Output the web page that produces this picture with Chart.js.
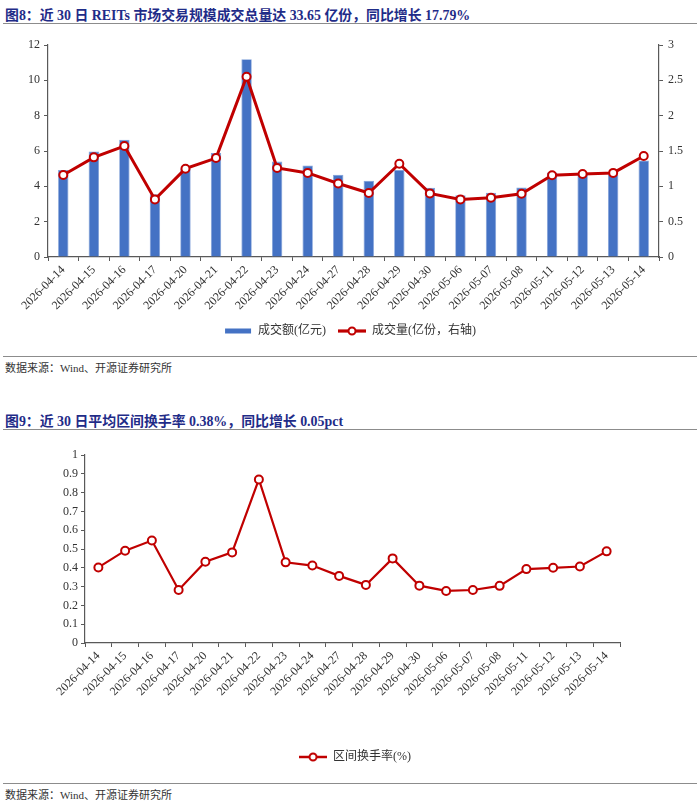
<!DOCTYPE html>
<html>
<head>
<meta charset="utf-8">
<script src="https://cdn.jsdelivr.net/npm/chart.js@4/dist/chart.umd.min.js"></script>
<style>
  html, body { margin: 0; padding: 0; background: #fff; }
  body { width: 700px; height: 806px; position: relative; overflow: hidden; }
  .title { position: absolute; left: 5px; font-family: "Liberation Serif", "Noto Sans CJK SC", serif; font-weight: bold; font-size: 13.9px; color: #1f2c88; white-space: nowrap; }
  .rule { position: absolute; left: 3px; width: 694px; height: 0; border-top: 1.5px solid #8c8c8c; }
  .src { position: absolute; left: 5px; font-family: "Liberation Serif", "Noto Sans CJK SC", serif; font-size: 11px; color: #333; white-space: nowrap; }
  .box { position: absolute; left: 0; width: 700px; }
</style>
</head>
<body>
<div class="title" style="top:4px;">图8：近 30 日 REITs 市场交易规模成交总量达 33.65 亿份，同比增长 17.79%</div>
<div class="rule" style="top:23px;"></div>
<div class="box" style="top:30px;height:320px;"><canvas id="c1"></canvas></div>
<div class="rule" style="top:356px;"></div>
<div class="src" style="top:359px;">数据来源：Wind、开源证券研究所</div>

<div class="title" style="top:410px;">图9：近 30 日平均区间换手率 0.38%，同比增长 0.05pct</div>
<div class="rule" style="top:429px;"></div>
<div class="box" style="top:440px;height:340px;"><canvas id="c2"></canvas></div>
<div class="rule" style="top:783px;"></div>
<div class="src" style="top:786px;">数据来源：Wind、开源证券研究所</div>

<script>
const dates = ['2026-04-14','2026-04-15','2026-04-16','2026-04-17','2026-04-20','2026-04-21','2026-04-22','2026-04-23','2026-04-24','2026-04-27','2026-04-28','2026-04-29','2026-04-30','2026-05-06','2026-05-07','2026-05-08','2026-05-11','2026-05-12','2026-05-13','2026-05-14'];
const amount = [4.93,5.97,6.64,3.55,5.0,5.88,11.19,5.4,5.18,4.66,4.32,4.93,3.92,3.5,3.64,3.94,4.78,4.7,4.65,5.46];
const volume = [1.16,1.41,1.57,0.815,1.25,1.40,2.55,1.26,1.19,1.04,0.905,1.32,0.90,0.815,0.84,0.896,1.156,1.175,1.19,1.43];
const turnover = [0.402,0.491,0.545,0.282,0.432,0.482,0.87,0.429,0.412,0.357,0.309,0.45,0.305,0.277,0.282,0.304,0.393,0.4,0.407,0.4875];
const leftTicks = [0,2,4,6,8,10,12];
const rightTicks = [0,0.5,1,1.5,2,2.5,3];
const turnTicks = [0,0.1,0.2,0.3,0.4,0.5,0.6,0.7,0.8,0.9,1];

const BLUE = '#4472c4';
const RED = '#c00000';
const AXIS = '#595959';
const TXT = '#333333';
const numFont = { family: '"Liberation Serif", "Times New Roman", serif', size: 12 };
const legFont = { family: '"Liberation Serif", "Noto Sans CJK SC", serif', size: 12 };
const plainNum = v => String(+Number(v).toFixed(2));

function makeIcon(kind, lw) {
  const dpr = window.devicePixelRatio || 1;
  const c = document.createElement('canvas');
  c.width = 28 * dpr; c.height = 10 * dpr;
  const g = c.getContext('2d');
  g.scale(dpr, dpr);
  if (kind === 'bar') {
    g.fillStyle = BLUE;
    g.fillRect(1, 2.5, 26, 5);
  } else {
    g.strokeStyle = RED; g.lineWidth = lw;
    g.beginPath(); g.moveTo(0, 5); g.lineTo(28, 5); g.stroke();
    g.fillStyle = '#fff'; g.lineWidth = 2;
    g.beginPath(); g.arc(14, 5, 3.5, 0, Math.PI * 2); g.fill(); g.stroke();
  }
  const img = new Image(28, 10);
  img.src = c.toDataURL();
  return img;
}

function fixedWidth(w) { return function (s) { s.width = w; }; }
function fixedHeight(h) { return function (s) { s.height = h; }; }

const xAxisBase = (h) => ({
  offset: true,
  grid: { display: true, drawOnChartArea: false, offset: true, tickLength: 4, color: AXIS, lineWidth: 1 },
  border: { display: true, color: AXIS, width: 1.2 },
  ticks: { color: TXT, font: numFont, minRotation: 45, maxRotation: 45, autoSkip: false, padding: 2 },
  afterFit: fixedHeight(h)
});

const iconBar = makeIcon('bar');
const iconLine1 = makeIcon('line', 3.2);
const iconLine2 = makeIcon('line', 2.5);

function legendLabels(chart) {
  const items = Chart.defaults.plugins.legend.labels.generateLabels(chart);
  items.forEach(it => { it.pointStyle = chart.data.datasets[it.datasetIndex].legendIcon; });
  return items;
}

function startCharts() {
  new Chart(document.getElementById('c1'), {
    data: {
      labels: dates,
      datasets: [
        { type: 'line', label: '成交量(亿份，右轴)', data: volume, yAxisID: 'y1', order: 0,
          borderColor: RED, borderWidth: 3, pointRadius: 4, pointBorderWidth: 2, pointBackgroundColor: '#fff',
          pointBorderColor: RED, tension: 0, legendIcon: iconLine1 },
        { type: 'bar', label: '成交额(亿元)', data: amount, yAxisID: 'y', order: 1,
          backgroundColor: BLUE, borderColor: '#7f9fd8', borderWidth: 0.8,
          categoryPercentage: 1, barPercentage: 0.34, legendIcon: iconBar }
      ]
    },
    options: {
      responsive: true, maintainAspectRatio: false, animation: false,
      layout: { padding: { top: 15, right: 0, left: 0, bottom: 3 } },
      plugins: {
        tooltip: { enabled: false },
        legend: {
          position: 'bottom', reverse: true,
          labels: { usePointStyle: true, pointStyleWidth: 28, padding: 12, font: legFont, color: TXT, generateLabels: legendLabels }
        }
      },
      scales: {
        x: xAxisBase(56),
        y: {
          position: 'left', min: 0, max: 12,
          afterBuildTicks(s) { s.ticks = leftTicks.map(v => ({ value: v })); },
          grid: { display: true, drawOnChartArea: false, tickLength: 4, color: AXIS },
          border: { display: true, color: AXIS, width: 1.2 },
          ticks: { color: TXT, font: numFont, padding: 4, callback: plainNum },
          afterFit: fixedWidth(48)
        },
        y1: {
          position: 'right', min: 0, max: 3,
          afterBuildTicks(s) { s.ticks = rightTicks.map(v => ({ value: v })); },
          grid: { display: true, drawOnChartArea: false, tickLength: 4, color: AXIS },
          border: { display: true, color: AXIS, width: 1.2 },
          ticks: { color: TXT, font: numFont, padding: 5, callback: plainNum },
          afterFit: fixedWidth(41)
        }
      }
    }
  });

  new Chart(document.getElementById('c2'), {
    type: 'line',
    data: {
      labels: dates,
      datasets: [
        { label: '区间换手率(%)', data: turnover,
          borderColor: RED, borderWidth: 2.2, pointRadius: 4, pointBorderWidth: 2, pointBackgroundColor: '#fff',
          pointBorderColor: RED, tension: 0, legendIcon: iconLine2 }
      ]
    },
    options: {
      responsive: true, maintainAspectRatio: false, animation: false,
      layout: { padding: { top: 15, right: 0, left: 10, bottom: 7 } },
      plugins: {
        tooltip: { enabled: false },
        legend: {
          position: 'bottom',
          labels: { usePointStyle: true, pointStyleWidth: 28, padding: 10, font: legFont, color: TXT, generateLabels: legendLabels }
        }
      },
      scales: {
        x: xAxisBase(98),
        y: {
          position: 'left', min: 0, max: 1,
          afterBuildTicks(s) { s.ticks = turnTicks.map(v => ({ value: v })); },
          grid: { display: true, drawOnChartArea: false, tickLength: 4, color: AXIS },
          border: { display: true, color: AXIS, width: 1.2 },
          ticks: { color: TXT, font: numFont, padding: 3, callback: plainNum },
          afterFit: fixedWidth(75)
        },
        spacer: {
          position: 'right', min: 0, max: 1,
          grid: { display: false, drawOnChartArea: false, drawTicks: false },
          border: { display: false },
          ticks: { display: false },
          afterFit: fixedWidth(80)
        }
      }
    }
  });
}

let pending = 3;
[iconBar, iconLine1, iconLine2].forEach(img => {
  if (img.complete) { if (--pending === 0) startCharts(); }
  else img.onload = () => { if (--pending === 0) startCharts(); };
});
</script>
</body>
</html>
